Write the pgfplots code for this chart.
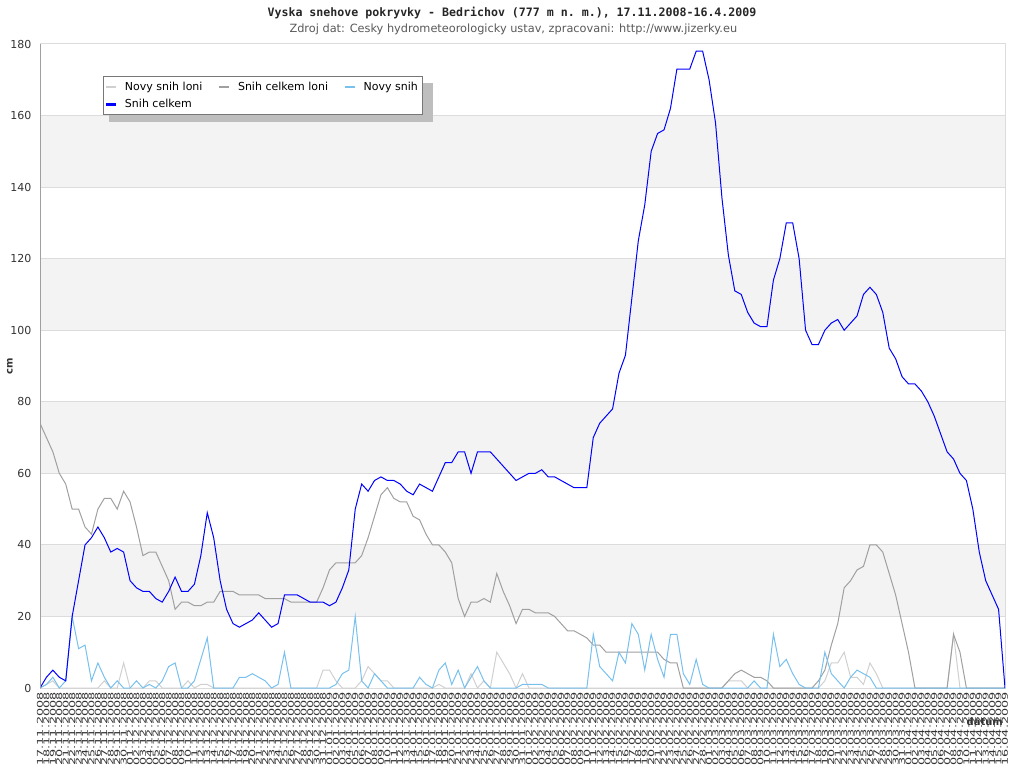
\documentclass[border=0pt]{standalone}
\usepackage{pgfplots}
\pgfplotsset{compat=1.18}
\usepackage{pgfplotstable}
\usepackage{graphicx}
\usepackage{fontspec}
\setmainfont{DejaVu Sans}
\setmonofont{DejaVu Sans Mono}
\definecolor{nsl}{RGB}{208,208,208}
\definecolor{scl}{RGB}{160,160,160}
\definecolor{ns}{RGB}{120,192,238}
\definecolor{sc}{RGB}{0,0,255}
\definecolor{band}{RGB}{243,243,243}
\definecolor{gridc}{RGB}{220,220,220}
\definecolor{txt}{RGB}{51,51,51}
\definecolor{shad}{RGB}{190,190,190}
\newcommand\LA[1]{\scalebox{1.6}[1]{#1}}
\newcommand\Nv[1]{\LA{#1.11.2008}}
\newcommand\Dc[1]{\LA{#1.12.2008}}
\newcommand\Ja[1]{\LA{#1.01.2009}}
\newcommand\Fe[1]{\LA{#1.02.2009}}
\newcommand\Mr[1]{\LA{#1.03.2009}}
\newcommand\Ap[1]{\LA{#1.04.2009}}
\pgfplotstableread{
i a b c d
0 0 74 0 0
1 1 70 1 3
2 2 66 3 5
3 0 60 0 3
4 0 57 2 2
5 0 50 20 20
6 0 50 11 30
7 0 45 12 40
8 0 43 2 42
9 0 50 7 45
10 2 53 3 42
11 0 53 0 38
12 0 50 2 39
13 7 55 0 38
14 0 52 0 30
15 0 45 2 28
16 0 37 0 27
17 2 38 1 27
18 2 38 0 25
19 0 34 2 24
20 0 30 6 27
21 0 22 7 31
22 0 24 0 27
23 2 24 0 27
24 0 23 2 29
25 1 23 8 37
26 1 24 14 49
27 0 24 0 42
28 0 27 0 30
29 0 27 0 22
30 0 27 0 18
31 0 26 3 17
32 0 26 3 18
33 0 26 4 19
34 0 26 3 21
35 0 25 2 19
36 0 25 0 17
37 0 25 1 18
38 0 25 10 26
39 0 24 0 26
40 0 24 0 26
41 0 24 0 25
42 0 24 0 24
43 0 24 0 24
44 5 28 0 24
45 5 33 0 23
46 2 35 1 24
47 0 35 4 28
48 0 35 5 33
49 0 35 20 50
50 2 37 2 57
51 6 42 0 55
52 4 48 4 58
53 2 54 2 59
54 2 56 0 58
55 0 53 0 58
56 0 52 0 57
57 0 52 0 55
58 0 48 0 54
59 0 47 3 57
60 0 43 1 56
61 0 40 0 55
62 1 40 5 59
63 0 38 7 63
64 0 35 1 63
65 0 25 5 66
66 0 20 0 66
67 4 24 3 60
68 0 24 6 66
69 2 25 2 66
70 0 24 0 66
71 10 32 0 64
72 7 27 0 62
73 4 23 0 60
74 0 18 0 58
75 4 22 1 59
76 0 22 1 60
77 0 21 1 60
78 0 21 1 61
79 0 21 0 59
80 0 20 0 59
81 0 18 0 58
82 0 16 0 57
83 0 16 0 56
84 0 15 0 56
85 0 14 0 56
86 0 12 15 70
87 0 12 6 74
88 0 10 4 76
89 0 10 2 78
90 0 10 10 88
91 0 10 7 93
92 0 10 18 109
93 0 10 15 125
94 0 10 5 135
95 0 10 15 150
96 0 10 8 155
97 0 8 3 156
98 0 7 15 162
99 0 7 15 173
100 0 0 4 173
101 0 0 1 173
102 0 0 8 178
103 0 0 1 178
104 0 0 0 170
105 0 0 0 158
106 0 0 0 137
107 2 2 0 121
108 2 4 0 111
109 2 5 0 110
110 0 4 0 105
111 0 3 2 102
112 0 3 0 101
113 0 2 0 101
114 0 0 15 114
115 0 0 6 120
116 0 0 8 130
117 0 0 4 130
118 0 0 1 120
119 0 0 0 100
120 0 0 0 96
121 0 2 0 96
122 2 5 10 100
123 7 12 4 102
124 7 18 2 103
125 10 28 0 100
126 3 30 3 102
127 3 33 5 104
128 1 34 4 110
129 7 40 3 112
130 4 40 0 110
131 0 38 0 105
132 0 32 0 95
133 0 26 0 92
134 0 18 0 87
135 0 10 0 85
136 0 0 0 85
137 0 0 0 83
138 0 0 0 80
139 0 0 0 76
140 0 0 0 71
141 0 0 0 66
142 15 15 0 64
143 0 10 0 60
144 0 0 0 58
145 0 0 0 50
146 0 0 0 38
147 0 0 0 30
148 0 0 0 26
149 0 0 0 22
150 0 0 0 0
}\snow
\begin{document}
\begin{tikzpicture}
\path (0,0) rectangle (768pt,576pt);
\node[font=\ttfamily\bfseries\fontsize{8.7}{10}\selectfont, text=black!85] at (384pt,566pt) {Vyska snehove pokryvky - Bedrichov (777 m n. m.), 17.11.2008-16.4.2009};
\node[font=\fontsize{8.5}{10}\selectfont, text=black!65] at (385pt,554pt) {Zdroj dat: Cesky hydrometeorologicky ustav, zpracovani: http://www.jizerky.eu};
\begin{axis}[
  set layers,
  at={(30pt,60pt)}, anchor=south west,
  scale only axis, width=723.75pt, height=483pt,
  xmin=0, xmax=150, ymin=0, ymax=180,
  xtick={0,...,150},
  xticklabels={\Nv{17},\Nv{18},\Nv{19},\Nv{20},\Nv{21},\Nv{22},\Nv{23},\Nv{24},\Nv{25},\Nv{26},\Nv{27},\Nv{28},\Nv{29},\Nv{30},
  \Dc{01},\Dc{02},\Dc{03},\Dc{04},\Dc{05},\Dc{06},\Dc{07},\Dc{08},\Dc{09},\Dc{10},\Dc{11},\Dc{12},\Dc{13},\Dc{14},\Dc{15},\Dc{16},\Dc{17},\Dc{18},\Dc{19},\Dc{20},\Dc{21},\Dc{22},\Dc{23},\Dc{24},\Dc{25},\Dc{26},\Dc{27},\Dc{28},\Dc{29},\Dc{30},\Dc{31},
  \Ja{01},\Ja{02},\Ja{03},\Ja{04},\Ja{05},\Ja{06},\Ja{07},\Ja{08},\Ja{09},\Ja{10},\Ja{11},\Ja{12},\Ja{13},\Ja{14},\Ja{15},\Ja{16},\Ja{17},\Ja{18},\Ja{19},\Ja{20},\Ja{21},\Ja{22},\Ja{23},\Ja{24},\Ja{25},\Ja{26},\Ja{27},\Ja{28},\Ja{29},\Ja{30},\Ja{31},
  \Fe{01},\Fe{02},\Fe{03},\Fe{04},\Fe{05},\Fe{06},\Fe{07},\Fe{08},\Fe{09},\Fe{10},\Fe{11},\Fe{12},\Fe{13},\Fe{14},\Fe{15},\Fe{16},\Fe{17},\Fe{18},\Fe{19},\Fe{20},\Fe{21},\Fe{22},\Fe{23},\Fe{24},\Fe{25},\Fe{26},\Fe{27},\Fe{28},
  \Mr{01},\Mr{02},\Mr{03},\Mr{04},\Mr{05},\Mr{06},\Mr{07},\Mr{08},\Mr{09},\Mr{10},\Mr{11},\Mr{12},\Mr{13},\Mr{14},\Mr{15},\Mr{16},\Mr{17},\Mr{18},\Mr{19},\Mr{20},\Mr{21},\Mr{22},\Mr{23},\Mr{24},\Mr{25},\Mr{26},\Mr{27},\Mr{28},\Mr{29},\Mr{30},\Mr{31},
  \Ap{01},\Ap{02},\Ap{03},\Ap{04},\Ap{05},\Ap{06},\Ap{07},\Ap{08},\Ap{09},\Ap{10},\Ap{11},\Ap{12},\Ap{13},\Ap{14},\Ap{15},\Ap{16}},
  xticklabel style={rotate=90, anchor=east, inner sep=0pt, font=\fontsize{6}{6}\selectfont, text=txt},
  xticklabel shift=3pt,
  ytick={0,20,...,180},
  yticklabel style={font=\fontsize{8.25}{10}\selectfont, text=txt},
  yticklabel shift=3pt,
  /pgf/number format/assume math mode=true,
  major tick length=0pt,
  tick style={draw=none},
  ymajorgrids, grid style={draw=gridc, line width=0.75pt},
  axis line style={draw=gridc, line width=0.75pt},
  ylabel={cm},
  ylabel style={at={(rel axis cs:0,0.5)}, anchor=center, yshift=22.5pt, font=\bfseries\fontsize{7.5}{9}\selectfont, text=txt},
  xlabel={datum},
  xlabel style={at={(rel axis cs:0.979,0)}, anchor=center, yshift=-25.5pt, font=\bfseries\fontsize{7.5}{9}\selectfont, text=txt},
  legend columns=3,
  legend cell align=left,
  legend image code/.code={\draw[#1, line width=1.8pt] (0pt,0pt) -- (7.5pt,0pt); \path[draw=none, fill=none] (0pt,0pt) -- (12pt,0pt);},
  legend style={at={(rel axis cs:0.0653,0.950)}, anchor=north west,
    draw={rgb,255:red,119;green,119;blue,119}, line width=0.75pt, fill=white,
    font=\fontsize{8.25}{10}\selectfont, text=black,
    inner xsep=1.2pt, inner ysep=1.8pt, row sep=1.5pt,
    /tikz/every even column/.append style={column sep=9.75pt}},
]
\begin{pgfonlayer}{axis background}
\fill[band] (axis cs:0,20) rectangle (axis cs:150,40);
\fill[band] (axis cs:0,60) rectangle (axis cs:150,80);
\fill[band] (axis cs:0,100) rectangle (axis cs:150,120);
\fill[band] (axis cs:0,140) rectangle (axis cs:150,160);
\end{pgfonlayer}
\addplot[nsl, line width=0.75pt] table[x=i, y=a] {\snow};
\addlegendentry{Novy snih loni}
\addplot[scl, line width=0.75pt] table[x=i, y=b] {\snow};
\addlegendentry{Snih celkem loni}
\addplot[ns, line width=0.75pt] table[x=i, y=c] {\snow};
\addlegendentry{Novy snih}
\addplot[sc, line width=0.75pt] table[x=i, y=d] {\snow};
\addlegendentry{Snih celkem}
\fill[shad] (rel axis cs:0.0715,0.8789) rectangle (rel axis cs:0.4073,0.9394);
\draw[scl, line width=1pt] (rel axis cs:0,0) -- (rel axis cs:0,1);
\end{axis}
\end{tikzpicture}
\end{document}
